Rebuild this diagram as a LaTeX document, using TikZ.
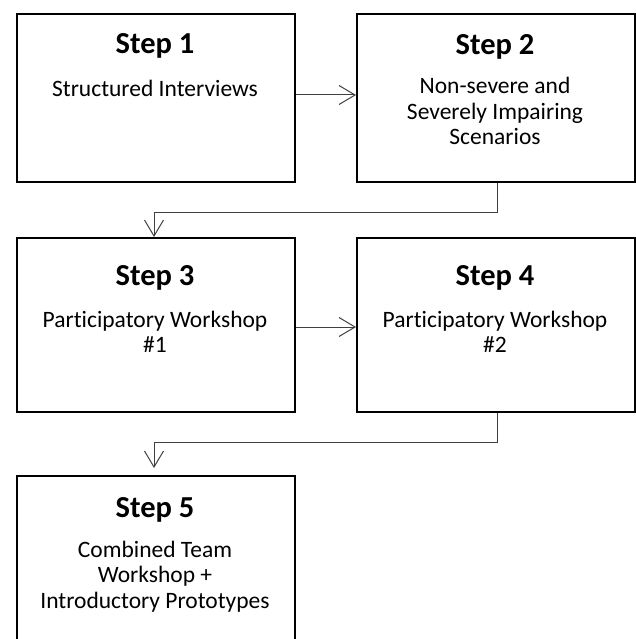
\documentclass[tikz,border=0pt]{standalone}
\usepackage{fontspec}
\setmainfont[Ligatures=NoCommon]{Carlito}
\usetikzlibrary{arrows.meta}
\begin{document}
\begin{tikzpicture}[x=1pt,y=-1pt,
  stepbox/.style={draw=black,line width=2.2pt,minimum width=278pt,anchor=north west,inner sep=0pt},
  ttl/.style={font=\fontsize{30.5}{34}\selectfont\bfseries,anchor=base,inner sep=0pt},
  body/.style={font=\fontsize{23.5}{25.5}\selectfont,align=center,anchor=base,inner sep=0pt},
  conn/.style={draw=black!75,line width=1pt,-{Straight Barb[length=16pt,width=19pt,line width=1pt]}}]
\useasboundingbox (0,0) rectangle (635,639);
% boxes
\node[stepbox,minimum height=168pt] (s1) at (16,13) {};
\node[stepbox,minimum height=168pt] (s2) at (356,13) {};
\node[stepbox,minimum height=174pt] (s3) at (16,237) {};
\node[stepbox,minimum height=174pt] (s4) at (356,237) {};
\node[stepbox,minimum height=190pt] (s5) at (16,475) {};
% texts (multi-line nodes: base = baseline of last line)
\node[ttl] (t1) at (155,54) {Step 1};
\node[body] (d1) at (155,97) {Structured Interviews};
\node[ttl] (t2) at (495,55) {Step 2};
\node[body] (d2) at (495,145) {Non-severe and\\Severely Impairing\\Scenarios};
\node[ttl] (t3) at (155,285) {Step 3};
\node[body] (d3) at (155,352.5) {Participatory Workshop\\\#1};
\node[ttl] (t4) at (495,285) {Step 4};
\node[body] (d4) at (495,352.5) {Participatory Workshop\\\#2};
\node[ttl] (t5) at (155,517) {Step 5};
\node[body] (d5) at (155,608) {Combined Team\\Workshop +\\Introductory Prototypes};
% connectors
\draw[conn] (s1.east |- 0,95) -- (s2.west |- 0,95);
\draw[conn] (s3.east |- 0,327) -- (s4.west |- 0,327);
\draw[conn] (s2.south -| 497,0) -- (497,212) -- (154,212) -- (s3.north -| 154,0);
\draw[conn,shorten >=7pt] (s4.south -| 497,0) -- (497,442) -- (154,442) -- (s5.north -| 154,0);
\end{tikzpicture}
\end{document}
